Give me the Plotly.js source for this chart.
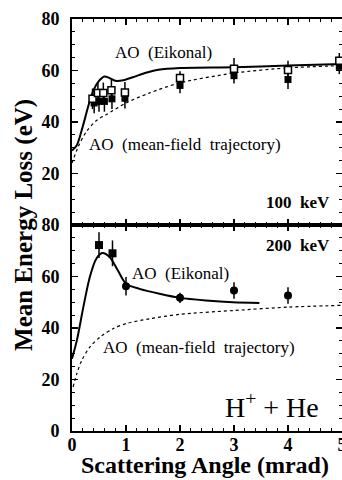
<!DOCTYPE html>
<html><head><meta charset="utf-8">
<script src="https://cdn.plot.ly/plotly-3.0.1.min.js"></script>
<style>html,body{margin:0;padding:0;background:#fff;}#chart{width:342px;height:480px;}</style>
</head><body><div id="chart"></div>
<script>
// ---- 100 keV (top panel) ----
const eik100X = [0, 0.09, 0.2, 0.31, 0.4, 0.5, 0.6, 0.7, 0.8, 0.95, 1.13, 1.35, 1.6, 2.0, 3.0, 4.0, 5.0];
const eik100Y = [28.9, 31.0, 38.3, 46.8, 52.5, 56.0, 57.7, 57.0, 56.0, 56.2, 57.4, 59.0, 60.3, 61.0, 61.3, 61.9, 62.5];
const mf100X = [0, 0.12, 0.27, 0.46, 0.64, 1.0, 1.44, 2.0, 3.0, 4.0, 5.0];
const mf100Y = [24.1, 30.6, 36.4, 40.7, 42.9, 47.4, 51.3, 55.2, 59.0, 61.0, 61.9];
const open100X = [0.38, 0.48, 0.58, 0.73, 0.98, 2.0, 3.0, 4.0, 4.95];
const open100Y = [49.0, 51.3, 51.3, 52.3, 51.5, 57.1, 60.7, 60.2, 63.8];
const open100Err = [4, 4, 4, 4, 4, 2.6, 4.2, 3.6, 3];
const fill100X = [0.41, 0.5, 0.6, 0.74, 0.98, 2.0, 3.0, 4.0, 4.95];
const fill100Y = [47.4, 48.0, 48.0, 49.0, 49.2, 54.2, 58.0, 56.5, 61.6];
const fill100Err = [4, 4, 4, 4, 4, 3, 3, 3.7, 3];
// ---- 200 keV (bottom panel) ----
const eik200X = [0, 0.09, 0.21, 0.33, 0.45, 0.56, 0.7, 0.85, 1.0, 1.25, 1.62, 2.0, 2.48, 2.98, 3.47];
const eik200Y = [28.1, 35.2, 48.1, 59.8, 66.9, 69.1, 67.5, 62.3, 57.2, 55.2, 53.3, 51.7, 50.7, 50.0, 49.7];
const mf200X = [0.02, 0.09, 0.18, 0.33, 0.52, 0.76, 1.0, 1.44, 2.0, 3.0, 4.0, 5.0];
const mf200Y = [17.1, 22.3, 27.4, 32.6, 36.5, 39.7, 41.7, 43.6, 45.3, 46.8, 48.1, 48.8];
const dat200X = [0.5, 0.75, 1.0, 2.0, 3.0, 4.0];
const dat200Y = [72.2, 69.0, 56.2, 51.7, 54.6, 52.6];
const dat200Err = [5, 5, 3.6, 2, 3.2, 3.2];
// ---- tick labels ----
const xTicks = [0, 1, 2, 3, 4, 5];
const yTicksBottom = [0, 20, 40, 60, 80];
const yTicksTop = [20, 40, 60, 80];

const serif = 'Liberation Serif, Times New Roman, serif';
const lineS = {color: '#000', width: 2, shape: 'spline', smoothing: 0.8};
const lineD = {color: '#000', width: 1.2, dash: '3px,3px', shape: 'spline', smoothing: 0.8};
const errS = (a) => ({type: 'data', array: a, visible: true, width: 0, thickness: 1.5, color: '#000'});

const traces = [
  {x: eik100X, y: eik100Y, xaxis: 'x2', yaxis: 'y2', mode: 'lines', line: lineS},
  {x: mf100X, y: mf100Y, xaxis: 'x2', yaxis: 'y2', mode: 'lines', line: lineD},
  {x: fill100X, y: fill100Y, xaxis: 'x2', yaxis: 'y2', mode: 'markers', error_y: errS(fill100Err),
   marker: {symbol: 'square', size: 7, color: '#000'}},
  {x: open100X, y: open100Y, xaxis: 'x2', yaxis: 'y2', mode: 'markers', error_y: errS(open100Err),
   marker: {symbol: 'square', size: 7, color: '#fff', line: {color: '#000', width: 1.5}}},
  {x: eik200X, y: eik200Y, xaxis: 'x', yaxis: 'y', mode: 'lines', line: lineS},
  {x: mf200X, y: mf200Y, xaxis: 'x', yaxis: 'y', mode: 'lines', line: lineD},
  {x: dat200X, y: dat200Y, xaxis: 'x', yaxis: 'y', mode: 'markers', error_y: errS(dat200Err),
   marker: {symbol: ['square', 'square', 'circle', 'circle', 'circle', 'circle'], size: 8, color: '#000'}}
];

const tickFont = {family: serif, size: 18, color: '#000', weight: 'bold'};
const axBase = {showline: true, linewidth: 2, linecolor: '#000', mirror: 'ticks', ticks: 'inside',
  ticklen: 6, tickwidth: 1.5, tickcolor: '#000', showgrid: false, zeroline: false, tickfont: tickFont,
  ticklabeloverflow: 'allow'};

const layout = {
  width: 342, height: 480, showlegend: false,
  margin: {l: 72, r: 0, t: 19, b: 49},
  paper_bgcolor: '#fff', plot_bgcolor: '#fff',
  xaxis: Object.assign({}, axBase, {anchor: 'y', range: [0, 5], tickvals: xTicks, ticktext: xTicks.map(String),
    minor: {dtick: 0.2, ticks: 'inside', ticklen: 3, tickwidth: 1.2, tickcolor: '#000'}, ticklabelstandoff: -4}),
  xaxis2: Object.assign({}, axBase, {anchor: 'y2', matches: 'x', range: [0, 5], tickvals: xTicks, showticklabels: false,
    minor: {dtick: 0.2, ticks: 'inside', ticklen: 3, tickwidth: 1.2, tickcolor: '#000'}}),
  yaxis: Object.assign({}, axBase, {domain: [0, 0.5], anchor: 'x', range: [0, 80], tickvals: yTicksBottom,
    ticktext: yTicksBottom.map(String), minor: {dtick: 5, ticks: 'inside', ticklen: 3, tickwidth: 1.2, tickcolor: '#000'},
    ticklabelstandoff: 7}),
  yaxis2: Object.assign({}, axBase, {domain: [0.5, 1], anchor: 'x2', range: [0, 80], tickvals: yTicksTop,
    ticktext: yTicksTop.map(String), minor: {dtick: 5, ticks: 'inside', ticklen: 3, tickwidth: 1.2, tickcolor: '#000'},
    ticklabelstandoff: 7}),
  annotations: [
    {xref: 'paper', yref: 'paper', x: -0.178, y: 0.5, xanchor: 'center', yanchor: 'middle',
     text: 'Mean Energy Loss (eV)', textangle: -90, showarrow: false,
     font: {family: serif, size: 25, color: '#000', weight: 'bold'}},
    {xref: 'paper', yref: 'paper', x: 0.494, y: -0.082, xanchor: 'center', yanchor: 'middle',
     text: 'Scattering Angle (mrad)', showarrow: false,
     font: {family: serif, size: 24, color: '#000', weight: 'bold'}},
    {xref: 'x2', yref: 'y2', x: 1.69, y: 66.9, text: 'AO  (Eikonal)', showarrow: false,
     font: {family: serif, size: 17, color: '#000'}},
    {xref: 'x2', yref: 'y2', x: 2.10, y: 31.2, text: 'AO  (mean-field  trajectory)', showarrow: false,
     font: {family: serif, size: 17, color: '#000'}},
    {xref: 'x2', yref: 'y2', x: 4.19, y: 8.7, text: '100  keV', showarrow: false,
     font: {family: serif, size: 17, color: '#000', weight: 'bold'}},
    {xref: 'x', yref: 'y', x: 4.19, y: 72.0, text: '200  keV', showarrow: false,
     font: {family: serif, size: 17, color: '#000', weight: 'bold'}},
    {xref: 'x', yref: 'y', x: 2.0, y: 61.2, text: 'AO  (Eikonal)', showarrow: false,
     font: {family: serif, size: 17, color: '#000'}},
    {xref: 'x', yref: 'y', x: 2.36, y: 32.5, text: 'AO  (mean-field  trajectory)', showarrow: false,
     font: {family: serif, size: 17, color: '#000'}},
    {xref: 'x', yref: 'y', x: 3.71, y: 10, text: 'H<sup>+</sup> + He', showarrow: false,
     font: {family: serif, size: 28, color: '#000'}}
  ]
};

Plotly.newPlot('chart', traces, layout, {displayModeBar: false, staticPlot: true});
</script></body></html>
